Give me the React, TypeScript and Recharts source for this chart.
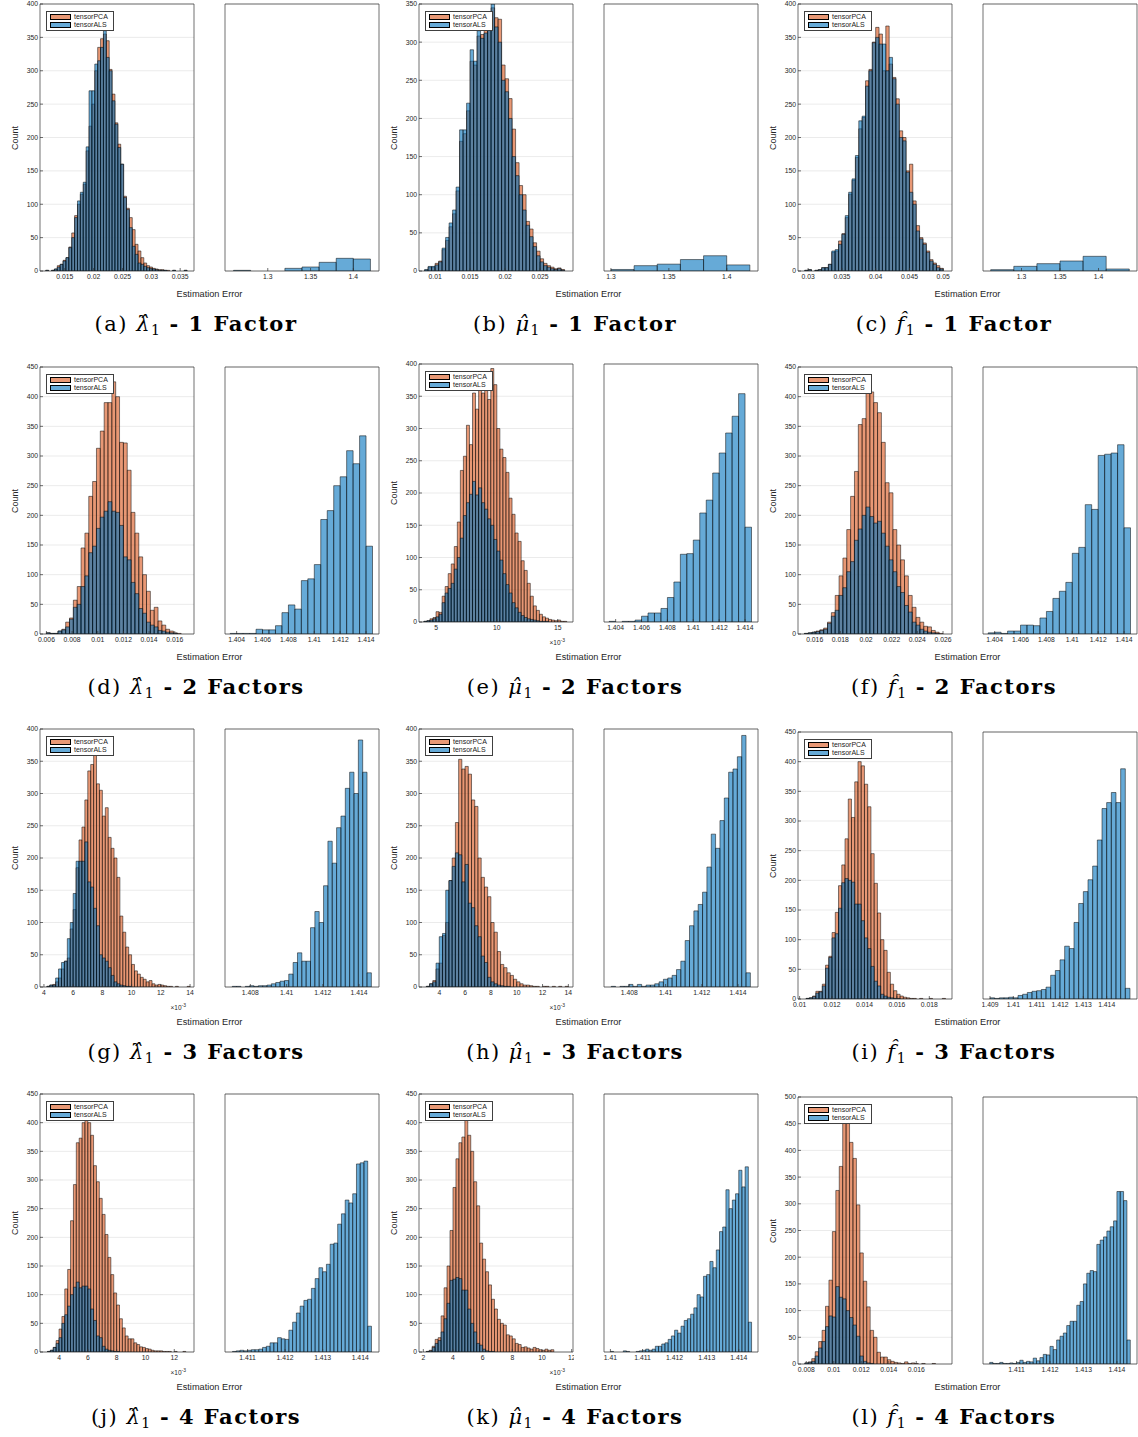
import { BarChart, Bar, XAxis, YAxis, CartesianGrid, Legend } from 'recharts'

const SANS = '"Liberation Sans", Arial, Helvetica, sans-serif'
const SERIF = '"DejaVu Serif", serif'
const AXIS = '#333333'
const PCA_FILL = '#D95319'
const ALS_FILL = '#0072BD'

// y ticks
const yTicks350 = [0, 50, 100, 150, 200, 250, 300, 350]
const yTicks400 = [0, 50, 100, 150, 200, 250, 300, 350, 400]
const yTicks450 = [0, 50, 100, 150, 200, 250, 300, 350, 400, 450]
const yTicks500 = [0, 50, 100, 150, 200, 250, 300, 350, 400, 450, 500]

// (a) lambda, 1 factor
const aPca = [1, 0, 1, 3, 8, 10, 16, 20, 36, 57, 83, 100, 115, 130, 180, 217, 250, 300, 335, 348, 355, 345, 302, 265, 222, 190, 160, 112, 94, 80, 62, 40, 30, 20, 12, 8, 6, 4, 3, 2, 2, 1, 1, 0, 1, 0, 0, 0, 1]
const aAls = [1, 0, 1, 3, 6, 10, 15, 20, 35, 50, 80, 105, 118, 133, 186, 270, 270, 310, 315, 335, 360, 320, 300, 255, 220, 185, 160, 110, 92, 65, 37, 25, 12, 10, 7, 5, 4, 3, 2, 1, 1, 1, 0, 0, 1, 0, 0, 0, 1]
const aRight = [1, 0, 0, 4, 6, 13, 19, 18]
const aTicksL = [0.015, 0.02, 0.025, 0.03, 0.035]
const aTicksR = [1.3, 1.35, 1.4]

// (b) mu, 1 factor
const bPca = [1, 5, 5, 10, 13, 28, 40, 58, 75, 105, 170, 180, 210, 275, 270, 308, 310, 320, 325, 345, 332, 330, 270, 252, 226, 186, 142, 112, 100, 65, 55, 37, 26, 16, 10, 7, 5, 3, 4, 2]
const bAls = [2, 6, 6, 8, 12, 30, 44, 63, 80, 110, 185, 185, 220, 290, 275, 315, 305, 312, 318, 350, 320, 300, 250, 235, 200, 150, 125, 100, 80, 60, 45, 32, 20, 12, 7, 5, 3, 2, 3, 1]
const bRight = [2, 7, 9, 15, 20, 8]
const bTicksL = [0.01, 0.015, 0.02, 0.025]
const bTicksR = [1.3, 1.35, 1.4]

// (c) f, 1 factor
const cPca = [1, 2, 0, 1, 2, 5, 5, 10, 28, 30, 45, 56, 80, 115, 136, 170, 213, 230, 285, 302, 343, 365, 355, 300, 367, 310, 290, 258, 210, 200, 150, 160, 105, 68, 50, 42, 30, 17, 12, 8, 4]
const cAls = [1, 2, 0, 1, 2, 5, 5, 10, 30, 32, 40, 55, 83, 118, 138, 173, 225, 232, 277, 300, 342, 350, 340, 340, 300, 320, 288, 250, 200, 195, 148, 118, 100, 60, 48, 40, 28, 15, 10, 5, 3]
const cRight = [2, 7, 11, 15, 22, 3]
const cTicksL = [0.03, 0.035, 0.04, 0.045, 0.05]
const cTicksR = [1.3, 1.35, 1.4]

// (d) lambda, 2 factors
const dPca = [2, 1, 1, 5, 8, 20, 27, 57, 80, 145, 170, 232, 257, 313, 342, 390, 390, 425, 400, 323, 322, 276, 205, 170, 130, 100, 72, 40, 45, 22, 15, 8, 5, 2, 1, 0]
const dAls = [2, 1, 1, 5, 7, 12, 25, 45, 50, 80, 98, 137, 148, 178, 197, 207, 223, 207, 205, 183, 130, 125, 87, 68, 43, 35, 20, 15, 12, 6, 5, 3, 2, 1, 0, 0]
const dRight = [1, 1, 1, 1, 8, 7, 7, 14, 36, 49, 42, 90, 93, 117, 193, 208, 250, 265, 309, 287, 334, 148]
const dTicksL = [0.006, 0.008, 0.01, 0.012, 0.014, 0.016]
const ticks1404 = [1.404, 1.406, 1.408, 1.41, 1.412, 1.414]

// (e) mu, 2 factors (x 10^-3)
const ePca = [1, 2, 5, 7, 16, 15, 40, 55, 75, 90, 117, 155, 235, 257, 305, 275, 355, 330, 385, 355, 370, 345, 393, 368, 300, 268, 255, 232, 192, 167, 138, 125, 95, 80, 60, 40, 25, 18, 12, 8, 6, 4, 3, 2, 3, 1, 1]
const eAls = [1, 2, 3, 5, 8, 12, 30, 45, 52, 60, 82, 100, 130, 165, 185, 198, 218, 197, 208, 185, 175, 160, 150, 128, 110, 96, 75, 58, 45, 30, 22, 15, 10, 7, 5, 4, 3, 2, 1, 1, 1, 0, 0, 0, 0, 0, 0]
const eRight = [1, 0, 1, 1, 3, 9, 14, 14, 21, 38, 62, 105, 106, 127, 169, 189, 231, 262, 293, 319, 354, 147]
const eTicksL = [5, 10, 15]

// (f) f, 2 factors
const fPca = [1, 2, 3, 5, 7, 10, 20, 36, 65, 98, 128, 176, 232, 274, 353, 363, 413, 408, 390, 373, 323, 255, 238, 176, 150, 125, 98, 65, 45, 28, 20, 13, 12, 6, 3, 1]
const fAls = [1, 2, 3, 4, 6, 8, 18, 30, 40, 65, 78, 105, 122, 158, 177, 200, 214, 198, 187, 190, 170, 148, 125, 105, 80, 70, 48, 37, 20, 15, 8, 5, 3, 2, 1, 0]
const fRight = [2, 3, 1, 5, 5, 15, 15, 14, 27, 38, 60, 72, 87, 136, 146, 218, 210, 301, 303, 305, 319, 179]
const fTicksL = [0.016, 0.018, 0.02, 0.022, 0.024, 0.026]

// (g) lambda, 3 factors (x 10^-3)
const gPca = [1, 3, 4, 8, 14, 28, 40, 45, 90, 120, 185, 228, 248, 290, 335, 345, 365, 315, 305, 265, 278, 232, 215, 200, 170, 110, 85, 62, 50, 35, 25, 20, 15, 12, 8, 10, 5, 3, 4, 3, 2, 1, 1, 0, 1, 0, 0, 0, 1]
const gAls = [1, 3, 3, 14, 28, 38, 40, 75, 100, 145, 195, 195, 195, 225, 163, 155, 122, 95, 50, 45, 40, 30, 18, 8, 5, 3, 2, 1, 1, 0, 0, 0, 0, 0, 0, 0, 0, 0, 0, 0, 0, 0, 0, 0, 0, 0, 0, 0, 0]
const gRight = [1, 1, 0, 1, 2, 1, 2, 2, 3, 5, 7, 9, 10, 20, 38, 53, 40, 40, 92, 117, 100, 157, 226, 192, 247, 265, 308, 333, 300, 383, 333, 22]
const gTicksL = [4, 6, 8, 10, 12, 14]
const ticks1408 = [1.408, 1.41, 1.412, 1.414]

// (h) mu, 3 factors (x 10^-3)
const hPca = [1, 5, 10, 28, 37, 80, 100, 165, 200, 255, 353, 338, 342, 330, 290, 280, 200, 170, 155, 140, 100, 85, 55, 35, 30, 22, 18, 12, 8, 5, 3, 3, 2, 1, 1, 0, 1, 1, 0, 1, 0, 1, 0, 1]
const hAls = [1, 5, 8, 37, 78, 83, 150, 165, 187, 208, 205, 163, 190, 130, 123, 95, 78, 48, 38, 15, 8, 5, 3, 2, 1, 1, 0, 0, 0, 0, 0, 0, 0, 0, 0, 0, 0, 0, 0, 0, 0, 0, 0, 0]
const hRight = [1, 0, 1, 1, 4, 1, 4, 1, 3, 3, 5, 8, 12, 14, 18, 27, 40, 72, 95, 118, 128, 147, 186, 237, 215, 258, 293, 333, 338, 357, 390, 22]
const hTicksL = [4, 6, 8, 10, 12, 14]

// (i) f, 3 factors
const iPca = [1, 2, 5, 13, 13, 25, 57, 72, 112, 146, 191, 226, 270, 337, 306, 366, 400, 393, 362, 324, 245, 195, 145, 100, 82, 45, 25, 14, 8, 5, 3, 2, 1, 1, 0, 1, 0, 0, 1, 0, 0, 0, 1]
const iAls = [1, 2, 4, 10, 12, 22, 52, 70, 103, 110, 153, 196, 203, 200, 197, 160, 160, 132, 103, 85, 55, 30, 22, 8, 5, 3, 2, 1, 1, 0, 0, 0, 0, 0, 0, 0, 0, 0, 0, 0, 0, 0, 0]
const iRight = [2, 1, 2, 2, 3, 2, 6, 8, 11, 13, 14, 16, 20, 40, 48, 66, 89, 85, 129, 161, 181, 201, 224, 268, 321, 331, 348, 331, 388, 18]
const iTicksL = [0.01, 0.012, 0.014, 0.016, 0.018]
const iTicksR = [1.409, 1.41, 1.411, 1.412, 1.413, 1.414]

// (j) lambda, 4 factors (x 10^-3)
const jPca = [1, 3, 8, 20, 40, 62, 110, 144, 229, 292, 365, 373, 400, 410, 400, 378, 325, 297, 268, 240, 205, 165, 135, 103, 82, 58, 42, 28, 23, 23, 16, 13, 9, 8, 6, 5, 3, 2, 2, 2, 1, 1, 1, 0, 1, 0, 0, 1, 0]
const jAls = [1, 3, 8, 15, 25, 50, 65, 80, 100, 113, 122, 112, 115, 115, 110, 75, 55, 28, 25, 10, 5, 3, 2, 1, 1, 0, 0, 0, 0, 0, 0, 0, 0, 0, 0, 0, 0, 0, 0, 0, 0, 0, 0, 0, 0, 0, 0, 0, 0]
const jRight = [1, 2, 3, 2, 3, 4, 4, 5, 8, 10, 16, 16, 25, 23, 22, 38, 52, 68, 80, 90, 92, 111, 128, 147, 140, 153, 188, 190, 223, 241, 265, 260, 276, 328, 330, 333, 45]
const jTicksL = [4, 6, 8, 10, 12]
const jTicksR = [1.411, 1.412, 1.413, 1.414]

// (k) mu, 4 factors (x 10^-3)
const kPca = [1, 3, 10, 22, 25, 63, 112, 150, 212, 287, 337, 365, 375, 405, 378, 350, 297, 255, 190, 162, 140, 117, 92, 75, 57, 50, 47, 30, 28, 23, 15, 13, 8, 9, 7, 5, 8, 6, 4, 3, 5, 3, 4, 0]
const kAls = [1, 2, 8, 15, 20, 35, 58, 85, 125, 127, 130, 128, 108, 108, 75, 50, 35, 15, 12, 5, 2, 1, 1, 0, 0, 0, 0, 0, 0, 0, 0, 0, 0, 0, 0, 0, 0, 0, 0, 0, 0, 0, 0, 0]
const kRight = [1, 0, 0, 0, 2, 1, 0, 0, 1, 2, 3, 5, 3, 5, 10, 10, 14, 16, 22, 28, 38, 33, 45, 55, 58, 66, 77, 100, 96, 132, 135, 158, 147, 178, 210, 218, 283, 250, 265, 276, 317, 288, 323, 52]
const kTicksL = [2, 4, 6, 8, 10, 12]
const kTicksR = [1.41, 1.411, 1.412, 1.413, 1.414]

// (l) f, 4 factors
const lPca = [2, 4, 10, 23, 42, 63, 108, 157, 248, 325, 370, 455, 460, 415, 385, 298, 208, 155, 107, 63, 50, 22, 13, 13, 8, 5, 3, 2, 1, 4, 1, 2, 1, 0, 1, 0, 0, 1, 0, 0]
const lAls = [2, 3, 5, 15, 30, 42, 70, 90, 88, 145, 125, 122, 100, 87, 73, 52, 15, 5, 2, 1, 0, 0, 0, 0, 0, 0, 0, 0, 0, 0, 0, 0, 0, 0, 0, 0, 0, 0, 0, 0]
const lRight = [3, 1, 1, 3, 1, 1, 2, 1, 3, 7, 3, 5, 4, 11, 6, 12, 18, 17, 33, 27, 45, 52, 58, 72, 80, 80, 110, 117, 150, 170, 175, 173, 224, 232, 238, 249, 257, 268, 323, 323, 306, 45]
const lTicksL = [0.008, 0.01, 0.012, 0.014, 0.016]
const lTicksR = [1.411, 1.412, 1.413, 1.414]

const legendItems = [
  { name: 'tensorPCA', color: 'rgb(232,152,117)' },
  { name: 'tensorALS', color: 'rgb(102,170,215)' },
]

type PanelSpec = {
  letter: string
  sym: string
  factors: string
  start: number
  step: number
  pca: number[]
  als: number[]
  rStart: number
  rStep: number
  right: number[]
  lDomain: [number, number]
  lTicks: number[]
  rDomain: [number, number]
  rTicks: number[]
  yTicks: number[]
  exp?: boolean
}

const LAM = 'λ\u0302'
const MU = 'μ\u0302'
const FH = 'f\u0302'

const panels: PanelSpec[] = [
  { letter: 'a', sym: LAM, factors: '1 Factor', start: 0.0117, step: 0.0005, pca: aPca, als: aAls, rStart: 1.26, rStep: 0.02, right: aRight, lDomain: [0.0107, 0.0374], lTicks: aTicksL, rDomain: [1.25, 1.43], rTicks: aTicksR, yTicks: yTicks400 },
  { letter: 'b', sym: MU, factors: '1 Factor', start: 0.0085, step: 0.0005, pca: bPca, als: bAls, rStart: 1.3, rStep: 0.02, right: bRight, lDomain: [0.0077, 0.0297], lTicks: bTicksL, rDomain: [1.294, 1.427], rTicks: bTicksR, yTicks: yTicks350 },
  { letter: 'c', sym: FH, factors: '1 Factor', start: 0.0295, step: 0.0005, pca: cPca, als: cAls, rStart: 1.26, rStep: 0.03, right: cRight, lDomain: [0.0285, 0.0513], lTicks: cTicksL, rDomain: [1.25, 1.45], rTicks: cTicksR, yTicks: yTicks400 },
  { letter: 'd', sym: LAM, factors: '2 Factors', start: 0.006, step: 0.0003, pca: dPca, als: dAls, rStart: 1.4035, rStep: 0.0005, right: dRight, lDomain: [0.0055, 0.0175], lTicks: dTicksL, rDomain: [1.4031, 1.415], rTicks: ticks1404, yTicks: yTicks450 },
  { letter: 'e', sym: MU, factors: '2 Factors', start: 4.0, step: 0.25, pca: ePca, als: eAls, rStart: 1.4035, rStep: 0.0005, right: eRight, lDomain: [3.6, 16.26], lTicks: eTicksL, rDomain: [1.4031, 1.415], rTicks: ticks1404, yTicks: yTicks400, exp: true },
  { letter: 'f', sym: FH, factors: '2 Factors', start: 0.0152, step: 0.0003, pca: fPca, als: fAls, rStart: 1.4035, rStep: 0.0005, right: fRight, lDomain: [0.0147, 0.0267], lTicks: fTicksL, rDomain: [1.4031, 1.415], rTicks: ticks1404, yTicks: yTicks450 },
  { letter: 'g', sym: LAM, factors: '3 Factors', start: 4.2, step: 0.2, pca: gPca, als: gAls, rStart: 1.407, rStep: 0.00024, right: gRight, lDomain: [3.73, 14.27], lTicks: gTicksL, rDomain: [1.4066, 1.4151], rTicks: ticks1408, yTicks: yTicks400, exp: true },
  { letter: 'h', sym: MU, factors: '3 Factors', start: 3.0, step: 0.25, pca: hPca, als: hAls, rStart: 1.407, rStep: 0.00024, right: hRight, lDomain: [2.43, 14.36], lTicks: hTicksL, rDomain: [1.4066, 1.4151], rTicks: ticks1408, yTicks: yTicks400, exp: true },
  { letter: 'i', sym: FH, factors: '3 Factors', start: 0.0104, step: 0.0002, pca: iPca, als: iAls, rStart: 1.409, rStep: 0.0002, right: iRight, lDomain: [0.0099, 0.0194], lTicks: iTicksL, rDomain: [1.4087, 1.4153], rTicks: iTicksR, yTicks: yTicks450 },
  { letter: 'j', sym: LAM, factors: '4 Factors', start: 3.2, step: 0.2, pca: jPca, als: jAls, rStart: 1.4106, rStep: 0.0001, right: jRight, lDomain: [2.68, 13.37], lTicks: jTicksL, rDomain: [1.4104, 1.4145], rTicks: jTicksR, yTicks: yTicks450, exp: true },
  { letter: 'k', sym: MU, factors: '4 Factors', start: 2.2, step: 0.2, pca: kPca, als: kAls, rStart: 1.41, rStep: 0.0001, right: kRight, lDomain: [1.71, 12.09], lTicks: kTicksL, rDomain: [1.4098, 1.4146], rTicks: kTicksR, yTicks: yTicks450, exp: true },
  { letter: 'l', sym: FH, factors: '4 Factors', start: 0.0079, step: 0.00025, pca: lPca, als: lAls, rStart: 1.4102, rStep: 0.0001, right: lRight, lDomain: [0.0074, 0.0186], lTicks: lTicksL, rDomain: [1.41, 1.4146], rTicks: lTicksR, yTicks: yTicks500 },
]

const ROWS = [1, 364, 729, 1094]
const PLOT_W = 154
const PAD_TOP = 6

const fmt = (v: number) => String(Number(v.toFixed(6)))
const tickStyle = { fontSize: 6.8, fill: '#262626' }

function LegendBox() {
  return (
    <div style={{ border: '1px solid #404040', background: '#fff', padding: '1px 3px', fontSize: 7, lineHeight: '8px', color: '#1a1a1a', width: 60, fontFamily: SANS }}>
      {legendItems.map((it) => (
        <div key={it.name} style={{ display: 'flex', alignItems: 'center', height: 8 }}>
          <span style={{ display: 'inline-block', width: 21, height: 6, background: it.color, border: '0.8px solid #000', boxSizing: 'border-box', marginRight: 3 }} />
          <span>{it.name}</span>
        </div>
      ))}
    </div>
  )
}

type Row = { x: number; pca?: number; als: number }

function Hist({ data, domain, ticks, yTicks, plotH, withY, withPca }: {
  data: Row[]; domain: [number, number]; ticks: number[]; yTicks: number[]; plotH: number; withY: boolean; withPca: boolean
}) {
  const yMax = yTicks[yTicks.length - 1]
  const step = data.length > 1 ? data[1].x - data[0].x : 0
  const barSize = (step * PLOT_W) / (domain[1] - domain[0]) - 0.02
  const yw = withY ? 40 : 1
  return (
    <BarChart width={yw + PLOT_W + 1} height={PAD_TOP + 1 + plotH + 22} data={data} margin={{ top: PAD_TOP, right: 0, bottom: 0, left: 0 }} barGap={0} barCategoryGap={0}>
      <CartesianGrid xAxisId="b" yAxisId="l" vertical={false} stroke="#e2e2e2" strokeWidth={0.7} />
      <XAxis xAxisId="b" dataKey="x" type="number" domain={domain} ticks={ticks} allowDataOverflow interval={0} height={22} tickSize={-3} tickMargin={6} tickFormatter={fmt} stroke={AXIS} strokeWidth={0.7} tick={tickStyle} />
      <XAxis xAxisId="t" dataKey="x" type="number" orientation="top" domain={domain} ticks={ticks} allowDataOverflow interval={0} height={1} tickSize={-3} tick={false} stroke={AXIS} strokeWidth={0.7} />
      <YAxis yAxisId="l" type="number" domain={[0, yMax]} ticks={yTicks} allowDataOverflow interval={0} width={yw} tickSize={-3} tickMargin={5} tick={withY ? tickStyle : false} stroke={AXIS} strokeWidth={0.7} />
      <YAxis yAxisId="r" orientation="right" type="number" domain={[0, yMax]} ticks={yTicks} allowDataOverflow interval={0} width={1} tickSize={-3} tick={false} stroke={AXIS} strokeWidth={0.7} />
      {withPca && (
        <Bar dataKey="pca" name="tensorPCA" xAxisId="b" yAxisId="l" fill={PCA_FILL} fillOpacity={0.6} stroke="#000" strokeWidth={0.5} barSize={barSize} isAnimationActive={false} />
      )}
      <Bar dataKey="als" name="tensorALS" xAxisId="t" yAxisId="l" fill={ALS_FILL} fillOpacity={0.6} stroke="#000" strokeWidth={0.5} barSize={barSize} isAnimationActive={false} />
      {withY && (
        <Legend layout="vertical" align="center" verticalAlign="middle" wrapperStyle={{ left: 46, top: PAD_TOP + 8, width: 68 }} content={() => <LegendBox />} />
      )}
    </BarChart>
  )
}

function Panel({ p, ox, oy }: { p: PanelSpec; ox: number; oy: number }) {
  const top = p.exp ? 0 : 3
  const plotH = p.exp ? 258 : 267
  const left: Row[] = p.pca.map((v, i) => ({ x: p.start + p.step * (i + 0.5), pca: v, als: p.als[i] ?? 0 }))
  const right: Row[] = p.right.map((v, i) => ({ x: p.rStart + p.rStep * (i + 0.5), als: v }))
  return (
    <>
      <div style={{ position: 'absolute', left: ox, top: oy + top - 1 - PAD_TOP }}>
        <Hist data={left} domain={p.lDomain} ticks={p.lTicks} yTicks={p.yTicks} plotH={plotH} withY withPca />
      </div>
      <div style={{ position: 'absolute', left: ox + 224, top: oy + top - 1 - PAD_TOP }}>
        <Hist data={right} domain={p.rDomain} ticks={p.rTicks} yTicks={p.yTicks} plotH={plotH} withY={false} withPca={false} />
      </div>
      <div style={{ position: 'absolute', left: ox + 14.5, top: oy + top + plotH / 2, transform: 'translate(-50%, -50%) rotate(-90deg)', fontSize: 9, color: '#262626', whiteSpace: 'nowrap' }}>
        Count
      </div>
      {p.exp && (
        <div style={{ position: 'absolute', left: ox + 186, top: oy + 279, transform: 'translate(-100%, -50%)', fontSize: 6.5, color: '#262626', whiteSpace: 'nowrap', lineHeight: '8px' }}>
          ×10<sup style={{ fontSize: 5, verticalAlign: 3, lineHeight: 0 }}>-3</sup>
        </div>
      )}
      <div style={{ position: 'absolute', left: ox + 209.5, top: oy + 293, transform: 'translate(-50%, -50%)', fontSize: 9.2, color: '#262626', whiteSpace: 'nowrap' }}>
        Estimation Error
      </div>
      <div style={{ position: 'absolute', left: ox, width: 392, top: oy + 311, textAlign: 'center', fontFamily: SERIF, fontSize: 21, lineHeight: '24px', letterSpacing: 1.5, color: '#000', whiteSpace: 'nowrap' }}>
        ({p.letter}) <i>{p.sym}</i>
        <span style={{ fontSize: 14, position: 'relative', top: 4 }}>1</span> <b>- {p.factors}</b>
      </div>
    </>
  )
}

export default function App() {
  return (
    <div style={{ position: 'absolute', left: 0, top: 0, width: 1138, height: 1437, background: '#fff', fontFamily: SANS, overflow: 'hidden' }}>
      {panels.map((p, i) => (
        <Panel key={p.letter} p={p} ox={(i % 3) * 379} oy={ROWS[Math.floor(i / 3)]} />
      ))}
    </div>
  )
}
